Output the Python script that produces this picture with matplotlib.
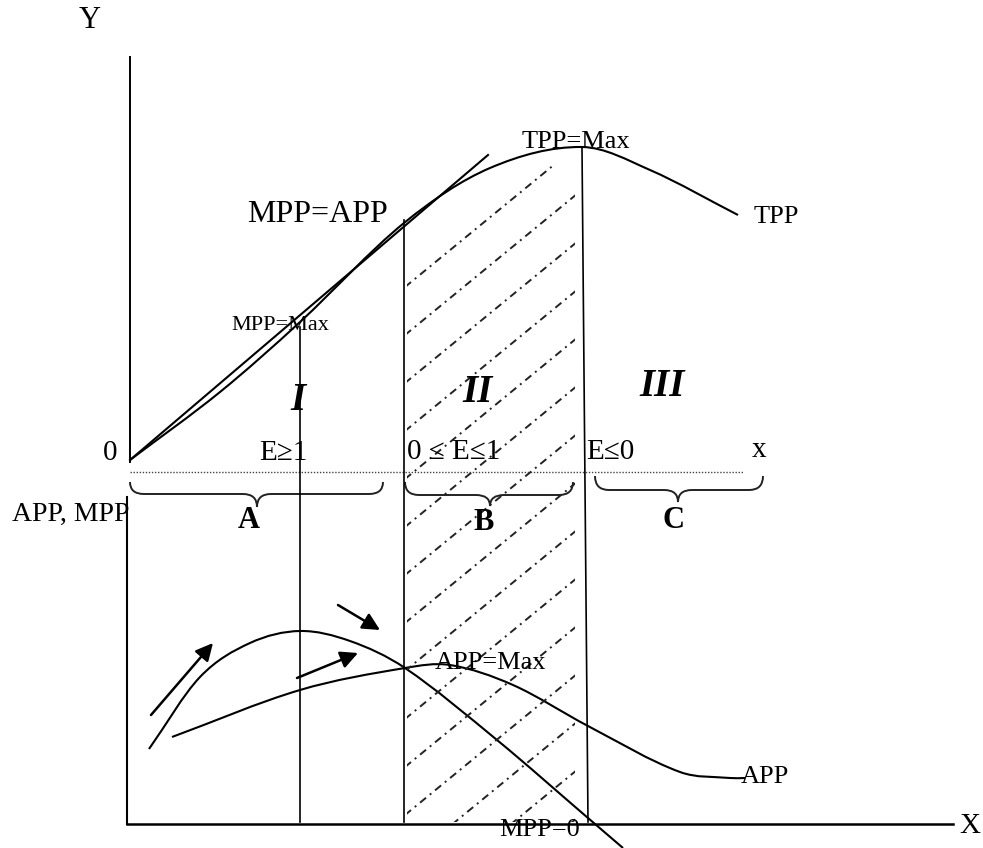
import numpy as np
import matplotlib
matplotlib.use("Agg")
import matplotlib.pyplot as plt
from matplotlib.path import Path
from matplotlib.patches import PathPatch, Rectangle

# Schematic, in picture coordinates (y grows downward)
tpp_x = [130, 220, 300, 404, 490, 582, 650, 738]
tpp_y = [460, 392, 322, 223, 168, 147, 170, 215]

ray_x = [130, 488]
ray_y = [460, 155]

mpp_x = [149, 200, 250, 300, 350, 405, 497, 588, 623]
mpp_y = [749, 677, 643, 631, 641, 668, 740, 818, 848]

app_x = [172, 300, 405, 450, 513, 588, 680, 730, 745]
app_y = [737, 690, 668, 665, 685, 726, 772, 778, 778]

# stage boundaries: x, top y, x at bottom
stage_x = [300, 404, 582]
stage_top = [327, 220, 148]
stage_xbot = [300, 404, 588]

arrows = [((151, 715), (213, 643)), ((297, 678), (358, 653)), ((338, 605), (380, 630))]

region_labels = ["I", "II", "III"]
region_pos = [(298, 400), (478, 393), (662, 387)]

elast_labels = ["E\u22651", "0 \u2264 E\u22641", "E\u22640"]
elast_pos = [(283, 453), (454, 452), (610, 452)]

brace_names = ["A", "B", "C"]
brace_x0 = [130, 405, 595]
brace_x1 = [383, 573, 763]
brace_tip = [257, 490, 678]
brace_top = [482, 482, 476]
brace_mid = [494, 495, 490]
brace_bot = [507, 506, 502]
brace_label_x = [249, 484, 673]
brace_label_y = [521, 523, 520]

SERIF = ["Liberation Serif", "DejaVu Serif"]


def smooth(xs, ys):
    # cubic Hermite through the read points, slopes from neighbouring points
    x = np.asarray(xs, float)
    y = np.asarray(ys, float)
    n = len(x)
    m = np.empty(n)
    m[0] = (y[1] - y[0]) / (x[1] - x[0])
    m[-1] = (y[-1] - y[-2]) / (x[-1] - x[-2])
    for i in range(1, n - 1):
        m[i] = (y[i + 1] - y[i - 1]) / (x[i + 1] - x[i - 1])
    verts = [(x[0], y[0])]
    codes = [Path.MOVETO]
    for i in range(n - 1):
        h = (x[i + 1] - x[i]) / 3
        verts += [(x[i] + h, y[i] + m[i] * h),
                  (x[i + 1] - h, y[i + 1] - m[i + 1] * h),
                  (x[i + 1], y[i + 1])]
        codes += [Path.CURVE4] * 3
    return Path(verts, codes)


def brace(ax, x0, x1, xt, yt, ym, yb):
    r = 14
    v = [(x0, yt), (x0, ym), (x0 + r, ym),
         (xt - r, ym), (xt, ym), (xt, yb),
         (xt, ym), (xt + r, ym),
         (x1 - r, ym), (x1, ym), (x1, yt)]
    c = [Path.MOVETO, Path.CURVE3, Path.CURVE3,
         Path.LINETO, Path.CURVE3, Path.CURVE3,
         Path.CURVE3, Path.CURVE3,
         Path.LINETO, Path.CURVE3, Path.CURVE3]
    ax.add_patch(PathPatch(Path(v, c), fill=False, lw=1.4, color="#222"))


fig = plt.figure(figsize=(9.83, 8.48), dpi=100)
ax = fig.add_axes([0, 0, 1, 1])
ax.set_xlim(0, 983)
ax.set_ylim(848, 0)
ax.axis("off")

# hatched stage II
clip = Rectangle((407, 165), 168, 657, transform=ax.transData)
hx = np.array([405, 600])
for y0 in np.arange(287, 970, 48):
    ln, = ax.plot(hx, y0 - 0.82 * (hx - 405), color="#222", lw=1.4,
                  ls=(0, (4, 2.5, 1, 2.5)))
    ln.set_clip_path(clip)

# axes
ax.plot([130, 130], [57, 462], color="black", lw=1.4)
ax.plot([130, 743], [472, 472], color="#444", lw=1.0, ls=(0, (1, 1.2)))
ax.plot([127, 127], [497, 824], color="black", lw=1.5)
ax.plot([127, 953], [824, 824], color="black", lw=1.8)

# curves
for xs, ys in [(tpp_x, tpp_y), (mpp_x, mpp_y), (app_x, app_y)]:
    ax.add_patch(PathPatch(smooth(xs, ys), fill=False, lw=1.5, color="black"))
ax.plot(ray_x, ray_y, color="black", lw=1.5)

# stage boundaries
for x, t, xb in zip(stage_x, stage_top, stage_xbot):
    ax.plot([x, xb], [t, 822], color="black", lw=1.2)

for tail, tip in arrows:
    ax.annotate("", xy=tip, xytext=tail,
                arrowprops=dict(arrowstyle="-|>", color="black", lw=1.8,
                                mutation_scale=26, shrinkA=0, shrinkB=0))

for i in range(3):
    brace(ax, brace_x0[i], brace_x1[i], brace_tip[i], brace_top[i],
          brace_mid[i], brace_bot[i])
    ax.text(brace_label_x[i], brace_label_y[i], brace_names[i], ha="center",
            va="center", fontsize=22, fontweight="bold", family=SERIF)

for s, (x, y) in zip(region_labels, region_pos):
    ax.text(x, y, s, ha="center", va="center", fontsize=28, fontweight="bold",
            fontstyle="italic", family=SERIF)

for s, (x, y) in zip(elast_labels, elast_pos):
    ax.text(x, y, s, ha="center", va="center", fontsize=21, family=SERIF)

txt = [("Y", 90, 20, 22), ("0", 110, 453, 21), ("x", 759, 450, 21),
       ("MPP=APP", 317, 215, 23), ("TPP=Max", 576, 142, 19),
       ("MPP=Max", 280, 326, 16), ("TPP", 776, 217, 19),
       ("APP=Max", 490, 663, 19), ("APP", 765, 777, 19),
       ("MPP=0", 540, 830, 19), ("X", 970, 826, 21)]
for s, x, y, fs in txt:
    ax.text(x, y, s, ha="center", va="center", fontsize=fs, family=SERIF)
ax.text(12, 514, "APP, MPP", ha="left", va="center", fontsize=20, family=SERIF)

fig.savefig("out.png", dpi=100)
